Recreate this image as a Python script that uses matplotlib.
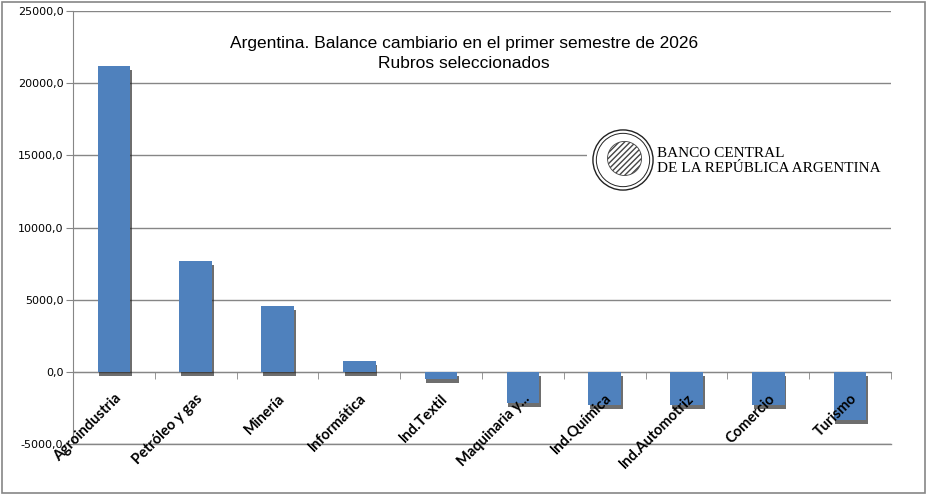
import numpy as np
import matplotlib
matplotlib.use('Agg')
from matplotlib import pyplot as plt
import matplotlib.patheffects as pe
from matplotlib.patches import Rectangle, Circle
from matplotlib.ticker import FuncFormatter

rubros = ['Agroindustria', 'Petróleo y gas', 'Minería', 'Informática', 'Ind.Textil',
          'Maquinaria y...', 'Ind.Química', 'Ind.Automotriz', 'Comercio', 'Turismo']
saldo = [21200, 7700, 4600, 780, -460, -2150, -2270, -2270, -2260, -3300]
y_ticks = [-5000, 0, 5000, 10000, 15000, 20000, 25000]

titulo = 'Argentina. Balance cambiario en el primer semestre de 2026\nRubros seleccionados'

fig = plt.figure(figsize=(9.32, 4.99), dpi=100)
ax = fig.add_axes([0.0783, 0.110, 0.8777, 0.868])

x = np.arange(len(rubros))
shadow = [pe.SimplePatchShadow(offset=(1.2, -3), shadow_rgbFace='#202020', alpha=0.65), pe.Normal()]
bars = ax.bar(x, saldo, width=0.4, color='#4F81BD', zorder=3)
for b in bars:
    b.set_path_effects(shadow)

ax.set_xlim(-0.5, len(rubros) - 0.5)
ax.set_ylim(-5000, 25000)
ax.set_yticks(y_ticks)
ax.yaxis.set_major_formatter(FuncFormatter(lambda v, p: f'{v:.1f}'.replace('.', ',')))
ax.tick_params(axis='y', length=5, color='#868686', labelsize=8, pad=2, labelcolor='black')
ax.yaxis.grid(True, color='#868686', linewidth=1)
ax.axhline(-5000, color='#868686', linewidth=1, clip_on=False)
ax.set_axisbelow(True)

# eje x en el cero
ax.spines['bottom'].set_position(('data', 0))
ax.spines['bottom'].set_color('#868686')
ax.spines['left'].set_color('#868686')
ax.spines['top'].set_visible(False)
ax.spines['right'].set_visible(False)
ax.set_xticks([])
ax.set_xticks(np.arange(len(rubros) + 1) - 0.5, minor=True)
ax.tick_params(axis='x', which='minor', length=5, direction='out', color='#868686', labelbottom=False)

for i, r in enumerate(rubros):
    ax.annotate(r, xy=(i, 0), xycoords='data', xytext=(0, -14), textcoords='offset points',
                rotation=45, rotation_mode='anchor', ha='right', va='top',
                fontsize=10.5, fontweight='bold', family='Lato')

ax.text(0.478, 0.902, titulo, transform=ax.transAxes, ha='center', va='center',
        fontsize=12.5, family='Liberation Sans', linespacing=1.35)

# logo BCRA
fig.patches.append(Rectangle((587 / 932, 1 - 200 / 499), (891 - 587) / 932, 80 / 499,
                             transform=fig.transFigure, facecolor='white', edgecolor='none', zorder=2))
logo = fig.add_axes([592 / 932, 1 - 191 / 499, 62 / 932, 62 / 499])
logo.set_zorder(4)
logo.patch.set_alpha(0)
logo.set_xlim(-1, 1)
logo.set_ylim(-1, 1)
logo.set_aspect('equal')
logo.axis('off')
logo.add_patch(Circle((0, 0), 0.97, fill=False, lw=1.0, color='#222222'))
logo.add_patch(Circle((0, 0), 0.86, fill=False, lw=0.7, color='#222222'))
logo.add_patch(Circle((0.05, 0.05), 0.55, facecolor='none', edgecolor='#444444', hatch='//////', lw=0.6))
fig.text(657 / 932, 1 - 161 / 499, 'BANCO CENTRAL\nDE LA REPÚBLICA ARGENTINA', ha='left', va='center',
         fontsize=11, family='Liberation Serif', linespacing=1.15, zorder=5)

# borde exterior
fig.patches.append(Rectangle((2 / 932, 1 - 493 / 499), 923 / 932, 491 / 499, transform=fig.transFigure,
                             facecolor='none', edgecolor='#868686', lw=1.2))

fig.savefig('out.png', dpi=100)
